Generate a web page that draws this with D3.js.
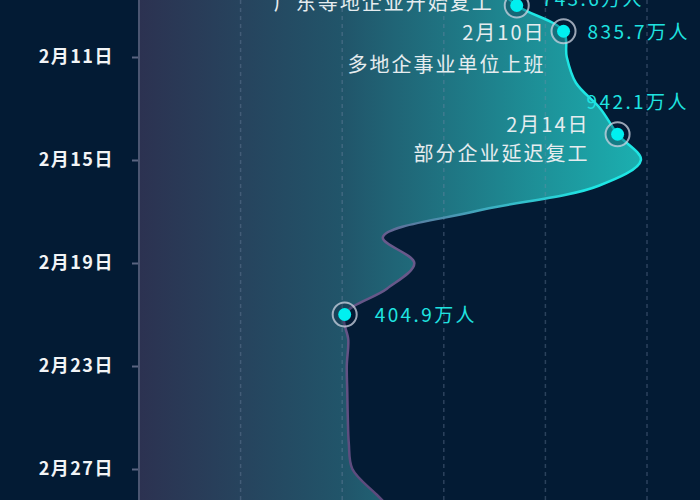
<!DOCTYPE html>
<html>
<head>
<meta charset="utf-8">
<script src="https://cdn.jsdelivr.net/npm/d3@7.9.0/dist/d3.min.js"></script>
<style>
  html, body { margin: 0; padding: 0; background: #031b34; }
  svg { display: block; font-family: "Noto Sans CJK SC", "Noto Sans", sans-serif; }
</style>
</head>
<body>
<svg id="chart" width="700" height="500"></svg>
<script>
// ====== DATA ======
const dayNums = [8, 9, 10, 11, 12, 13, 14, 15, 16, 17, 18, 19, 20, 21, 22, 23, 24, 25, 26, 27, 28, 29];
const values = [690, 743.6, 835.7, 842, 860, 908, 942.1, 988, 905, 660, 480, 542, 488, 404.9, 412, 409, 410, 411, 413, 420, 468, 520];
const tickDays = [11, 15, 19, 23, 27];
const gridValues = [200, 400, 600, 800, 1000];
const markedDays = [9, 10, 14, 21];
const noteDays = [9, 10, 14];
const noteTitles = ["广东等地企业开始复工", "多地企事业单位上班", "部分企业延迟复工"];

const width = 700, height = 500;
const svg = d3.select("#chart");

// ====== SCALES ======
const x = d3.scaleLinear().domain([0, 1000]).range([139, 647]);
const y = d3.scaleLinear().domain([11, 27]).range([57, 469]);

const data = dayNums.map((d, i) => ({ day: d, value: values[i] }));

// ====== GRADIENTS ======
const defs = svg.append("defs");
const fillGrad = defs.append("linearGradient")
  .attr("id", "fillGrad")
  .attr("gradientUnits", "userSpaceOnUse")
  .attr("x1", 139).attr("y1", 0).attr("x2", 650).attr("y2", 0);
fillGrad.append("stop").attr("offset", 0).attr("stop-color", "#2c3251");
fillGrad.append("stop").attr("offset", 0.4).attr("stop-color", "#21556a");
fillGrad.append("stop").attr("offset", 1).attr("stop-color", "#1bb2b2");

const lineGrad = defs.append("linearGradient")
  .attr("id", "lineGrad")
  .attr("gradientUnits", "userSpaceOnUse")
  .attr("x1", 0).attr("y1", 0).attr("x2", 0).attr("y2", height);
lineGrad.append("stop").attr("offset", 0).attr("stop-color", "#1ee6e4");
lineGrad.append("stop").attr("offset", 0.38).attr("stop-color", "#1ee6e4");
lineGrad.append("stop").attr("offset", 0.47).attr("stop-color", "#6a5a8c");
lineGrad.append("stop").attr("offset", 1).attr("stop-color", "#5c4a7c");

// background
svg.append("rect").attr("width", width).attr("height", height).attr("fill", "#031b34");

// ====== AREA ======
const area = d3.area()
  .y(d => y(d.day))
  .x0(x(0))
  .x1(d => x(d.value))
  .curve(d3.curveCatmullRom.alpha(0.5));

svg.append("path")
  .datum(data)
  .attr("d", area)
  .attr("fill", "url(#fillGrad)");

// dashed grid lines
svg.append("g")
  .selectAll("line")
  .data(gridValues)
  .join("line")
  .attr("x1", d => x(d)).attr("x2", d => x(d))
  .attr("y1", 0).attr("y2", height)
  .attr("stroke", "rgba(120,140,170,0.35)")
  .attr("stroke-width", 1.5)
  .attr("stroke-dasharray", "4,4");

// edge line
const line = d3.line()
  .y(d => y(d.day))
  .x(d => x(d.value))
  .curve(d3.curveCatmullRom.alpha(0.5));

svg.append("path")
  .datum(data)
  .attr("d", line)
  .attr("fill", "none")
  .attr("stroke", "url(#lineGrad)")
  .attr("stroke-width", 2.5);

// ====== Y AXIS ======
svg.append("line")
  .attr("x1", x(0)).attr("x2", x(0))
  .attr("y1", 0).attr("y2", height)
  .attr("stroke", "#4b5671")
  .attr("stroke-width", 2);

const yAxis = d3.axisLeft(y)
  .tickValues(tickDays)
  .tickSize(6)
  .tickPadding(18)
  .tickFormat(d => `2月${d}日`);

const axisG = svg.append("g")
  .attr("transform", `translate(${x(0) - 1},0)`)
  .call(yAxis);
axisG.select(".domain").remove();
axisG.selectAll(".tick line").attr("stroke", "#5a6580").attr("stroke-width", 2);
axisG.selectAll(".tick text")
  .attr("fill", "#f2f4f6")
  .attr("font-size", 18)
  .attr("font-weight", "bold")
  .attr("letter-spacing", "1.5px")
  .attr("font-family", "'Noto Sans CJK SC', sans-serif");

// ====== ANNOTATIONS ======
// label offsets per annotated day (relative to the point)
const noteLayout = {
  9:  { dx: -23, dateDy: -31, descDy: -2.5 },
  10: { dx: -18, dateDy: 2, descDy: 33.5 },
  14: { dx: -28, dateDy: -9.5, descDy: 20 }
};
const valueLayout = {
  9:  { dx: 25, dy: -6.5 },
  10: { dx: 24, dy: 1.5 },
  14: { dx: -31, dy: -32 },
  21: { dx: 30, dy: 0.5 }
};

const noteG = svg.append("g")
  .attr("font-size", 20)
  .attr("letter-spacing", "2px")
  .attr("fill", "#e6ecef")
  .attr("text-anchor", "end");

noteDays.forEach((day, i) => {
  const v = values[dayNums.indexOf(day)];
  const L = noteLayout[day];
  const px = x(v), py = y(day);
  noteG.append("text")
    .attr("x", px + L.dx).attr("y", py + L.dateDy)
    .attr("dy", "0.35em")
    .text(`2月${day}日`);
  noteG.append("text")
    .attr("x", px + L.dx).attr("y", py + L.descDy)
    .attr("dy", "0.35em")
    .text(noteTitles[i]);
});

// points
const markData = markedDays.map(day => ({ day, value: values[dayNums.indexOf(day)] }));

const pts = svg.append("g")
  .selectAll("g")
  .data(markData)
  .join("g")
  .attr("transform", d => `translate(${x(d.value)},${y(d.day)})`);

pts.append("circle")
  .attr("r", 12)
  .attr("fill", "rgba(3,27,52,0.3)")
  .attr("stroke", "rgba(205,212,226,0.75)")
  .attr("stroke-width", 2);
pts.append("circle")
  .attr("r", 6.5)
  .attr("fill", "#00f0f0");

// value labels
svg.append("g")
  .selectAll("text")
  .data(markData)
  .join("text")
  .attr("x", d => x(d.value) + valueLayout[d.day].dx)
  .attr("y", d => y(d.day) + valueLayout[d.day].dy)
  .attr("dy", "0.35em")
  .attr("font-size", 19)
  .attr("letter-spacing", "2.4px")
  .attr("fill", "#1fe3e0")
  .text(d => `${d.value.toFixed(1)}万人`);
</script>
</body>
</html>
